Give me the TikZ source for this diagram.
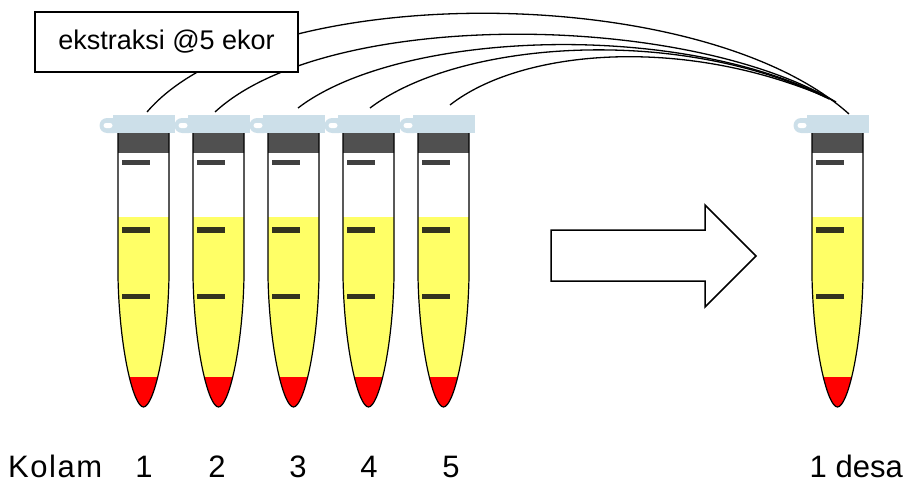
\documentclass[tikz,border=0pt]{standalone}
\usepackage{fontspec}
\setmainfont{Liberation Sans}
\newfontfamily\widesans[LetterSpace=5]{Liberation Sans}
\definecolor{capblue}{RGB}{204,223,233}
\definecolor{liquid}{RGB}{255,255,102}
\definecolor{pellet}{RGB}{255,0,0}
\definecolor{bandcol}{RGB}{51,51,30}
\definecolor{sealgray}{RGB}{80,80,80}

% outline of one tube body, in local coordinates (y grows downwards)
\def\tubebody{(-25.5,133) -- (-25.5,277) .. controls (-24,350) and (-10,407) .. (0,407)
  .. controls (10,407) and (24,350) .. (25.5,277) -- (25.5,133)}

\tikzset{
  link/.style={line width=1.3pt},
  labeltext/.style={font=\fontsize{31}{38}\selectfont, inner sep=0pt},
  tube/.pic={
    % hinge loop of the lid
    \fill[capblue, rounded corners=7.5pt] (-44,118) rectangle (-22,133);
    \fill[white, rounded corners=2.5pt] (-40,123) rectangle (-31,128);
    % lid
    \fill[capblue] (-30.5,115) rectangle (31.5,133);
    % contents
    \begin{scope}
      \clip \tubebody -- cycle;
      \fill[white] (-30,133) rectangle (30,410);
      \fill[liquid] (-30,217) rectangle (30,410);
      \fill[pellet] (-30,377) rectangle (30,410);
      \fill[sealgray] (-30,133) rectangle (30,153);
    \end{scope}
    % marks on the tube
    \fill[black!75] (-21.5,160) rectangle (6.5,165);
    \fill[bandcol] (-21.5,227) rectangle (6.5,233);
    \fill[bandcol] (-21.5,294) rectangle (6.5,299);
    \draw[line width=1.2pt] \tubebody;
  }
}

\begin{document}
\begin{tikzpicture}[x=1pt, y=-1pt]
  \useasboundingbox (0,0) rectangle (908,487);

  % tubes
  \pic (t1) at (143.5,0) {tube};
  \pic (t2) at (218.5,0) {tube};
  \pic (t3) at (293.5,0) {tube};
  \pic (t4) at (368.5,0) {tube};
  \pic (t5) at (443.5,0) {tube};
  \pic (t6) at (837.5,0) {tube};

  % start and end points of the links
  \coordinate (s1) at (147,112);
  \coordinate (s2) at (215,112);
  \coordinate (s3) at (298,108);
  \coordinate (s4) at (370,108);
  \coordinate (s5) at (450,105);
  \coordinate (e1) at (849,114);
  \coordinate (e2) at (836,102);
  \coordinate (e3) at (832,100);
  \coordinate (e4) at (829,99);
  \coordinate (e5) at (826,97);

  \draw[link] (s1) .. controls (260,-20) and (700,-20) .. (e1);
  \draw[link] (s2) .. controls (325,10) and (680,10) .. (e2);
  \draw[link] (s3) .. controls (400,30) and (680,20) .. (e3);
  \draw[link] (s4) .. controls (460,40) and (680,25) .. (e4);
  \draw[link] (s5) .. controls (520,50) and (680,35) .. (e5);

  % caption box
  \node[draw, fill=white, line width=1.5pt, minimum width=263pt, minimum height=60pt,
        font=\fontsize{27}{30}\selectfont] (box) at (166.5,42) {ekstraksi @5 ekor};

  % block arrow
  \draw[line width=1.5pt, fill=white]
    (551,230) -- (705,230) -- (705,205) -- (756,256) -- (705,307) -- (705,281) -- (551,281) -- cycle;

  % labels
  \node[labeltext, anchor=base west] (kolam) at (8,477) {\widesans Kolam};
  \node[labeltext, anchor=base] (n1) at (144,477) {1};
  \node[labeltext, anchor=base] (n2) at (217,477) {2};
  \node[labeltext, anchor=base] (n3) at (298,477) {3};
  \node[labeltext, anchor=base] (n4) at (369,477) {4};
  \node[labeltext, anchor=base] (n5) at (451,477) {5};
  \node[labeltext, anchor=base east] (desa) at (903,477) {1 desa};
\end{tikzpicture}
\end{document}
